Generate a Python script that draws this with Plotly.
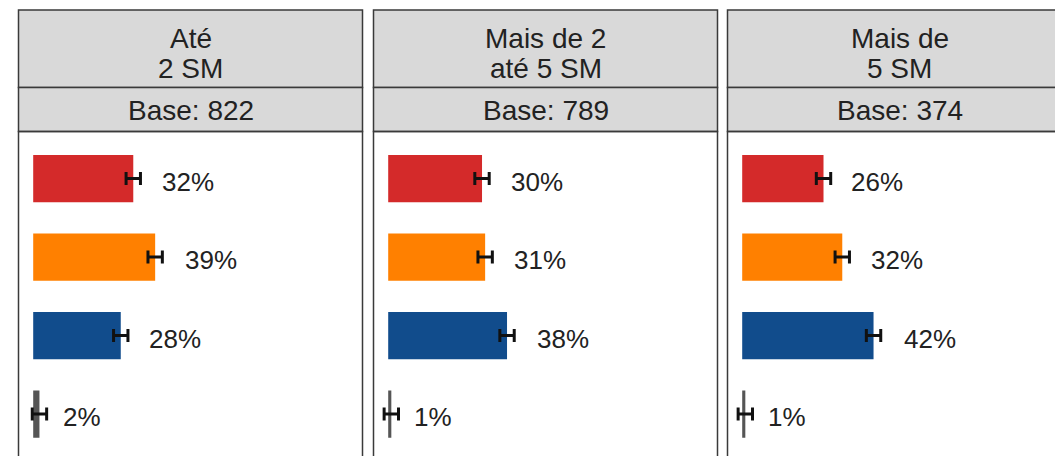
import plotly.graph_objects as go

# ---- data ----
panel_line1 = ["Até", "Mais de 2", "Mais de"]
panel_line2 = ["2 SM", "até 5 SM", "5 SM"]
bases = [822, 789, 374]
categories = ["Cat. 1", "Cat. 2", "Cat. 3", "Cat. 4"]
values_p1 = [32, 39, 28, 2]
values_p2 = [30, 31, 38, 1]
values_p3 = [26, 32, 42, 1]
errors = [2.3, 2.3, 2.3, 2.3]
values = [values_p1, values_p2, values_p3]
bar_colors = ["#D42A2A", "#FF8000", "#114C8C", "#555555"]

# ---- layout geometry (page pixels) ----
W, H = 1055, 456
FONT = "Liberation Sans, Arial, sans-serif"
panel_left = [18.5, 373.5, 727.5]
panel_w = 344.0
x_min, x_max = -4.7, 105.3
px_per_unit = panel_w / (x_max - x_min)
strip_top, strip_mid, plot_top = 10.0, 87.5, 131.5
band = 78.5
y_top_val = -0.6
y_bot_val = y_top_val + (H - plot_top) / band


def px(x):
    return x / W


def py(y):
    return 1 - y / H


fig = go.Figure()
shapes = []
annotations = []

for i in range(3):
    xa = "x" if i == 0 else f"x{i+1}"
    ya = "y" if i == 0 else f"y{i+1}"
    left = panel_left[i]
    right = left + panel_w
    vis_right = min(right, W)
    rng_right = x_min + (vis_right - left) / px_per_unit

    fig.add_trace(go.Bar(
        x=values[i], y=categories, orientation="h",
        marker=dict(color=bar_colors, line=dict(width=0)),
        width=0.6,
        error_x=dict(type="data", array=errors, color="#111111",
                     thickness=3, width=6.5),
        xaxis=xa, yaxis=ya, showlegend=False, hoverinfo="skip",
    ))

    xkey = "xaxis" if i == 0 else f"xaxis{i+1}"
    ykey = "yaxis" if i == 0 else f"yaxis{i+1}"
    fig.layout[xkey] = dict(domain=[px(left), px(vis_right)],
                            range=[x_min, rng_right], visible=False,
                            fixedrange=True, anchor=ya)
    fig.layout[ykey] = dict(domain=[0, py(plot_top)],
                            range=[y_bot_val, y_top_val], visible=False,
                            type="category", categoryorder="array",
                            categoryarray=categories, fixedrange=True,
                            anchor=xa)

    # value labels
    for c, v in zip(categories, values[i]):
        annotations.append(dict(
            x=v * 1.06 + 6.7, y=c, xref=xa, yref=ya, text=f"{v}%",
            showarrow=False, xanchor="left", yanchor="middle", yshift=-3,
            font=dict(family=FONT, size=26, color="#222222")))

    # strips
    shapes.append(dict(type="rect", xref="paper", yref="paper",
                       x0=px(left), x1=px(right), y0=py(strip_mid), y1=py(strip_top),
                       fillcolor="#D9D9D9", line=dict(color="#3a3a3a", width=1.5),
                       layer="above"))
    shapes.append(dict(type="rect", xref="paper", yref="paper",
                       x0=px(left), x1=px(right), y0=py(plot_top), y1=py(strip_mid),
                       fillcolor="#D9D9D9", line=dict(color="#3a3a3a", width=1.5),
                       layer="above"))
    # panel border
    shapes.append(dict(type="rect", xref="paper", yref="paper",
                       x0=px(left), x1=px(right), y0=py(H + 20), y1=py(plot_top),
                       fillcolor="rgba(0,0,0,0)", line=dict(color="#3a3a3a", width=1.5),
                       layer="above"))

    cx = px(left + panel_w / 2)
    annotations.append(dict(x=cx, y=py(39), xref="paper", yref="paper",
                            text=panel_line1[i], showarrow=False,
                            xanchor="center", yanchor="middle",
                            font=dict(family=FONT, size=28, color="#222222")))
    annotations.append(dict(x=cx, y=py(68.5), xref="paper", yref="paper",
                            text=panel_line2[i], showarrow=False,
                            xanchor="center", yanchor="middle",
                            font=dict(family=FONT, size=28, color="#222222")))
    annotations.append(dict(x=cx, y=py(110.5), xref="paper", yref="paper",
                            text=f"Base: {bases[i]}", showarrow=False,
                            xanchor="center", yanchor="middle",
                            font=dict(family=FONT, size=28, color="#222222")))

fig.update_layout(
    width=W, height=H,
    margin=dict(l=0, r=0, t=0, b=0),
    paper_bgcolor="white", plot_bgcolor="white",
    shapes=shapes, annotations=annotations,
    bargap=0.4,
)

fig.write_html("out.html", config={"displayModeBar": False},
               post_script="document.body.style.margin='0';document.body.style.overflow='hidden';")
